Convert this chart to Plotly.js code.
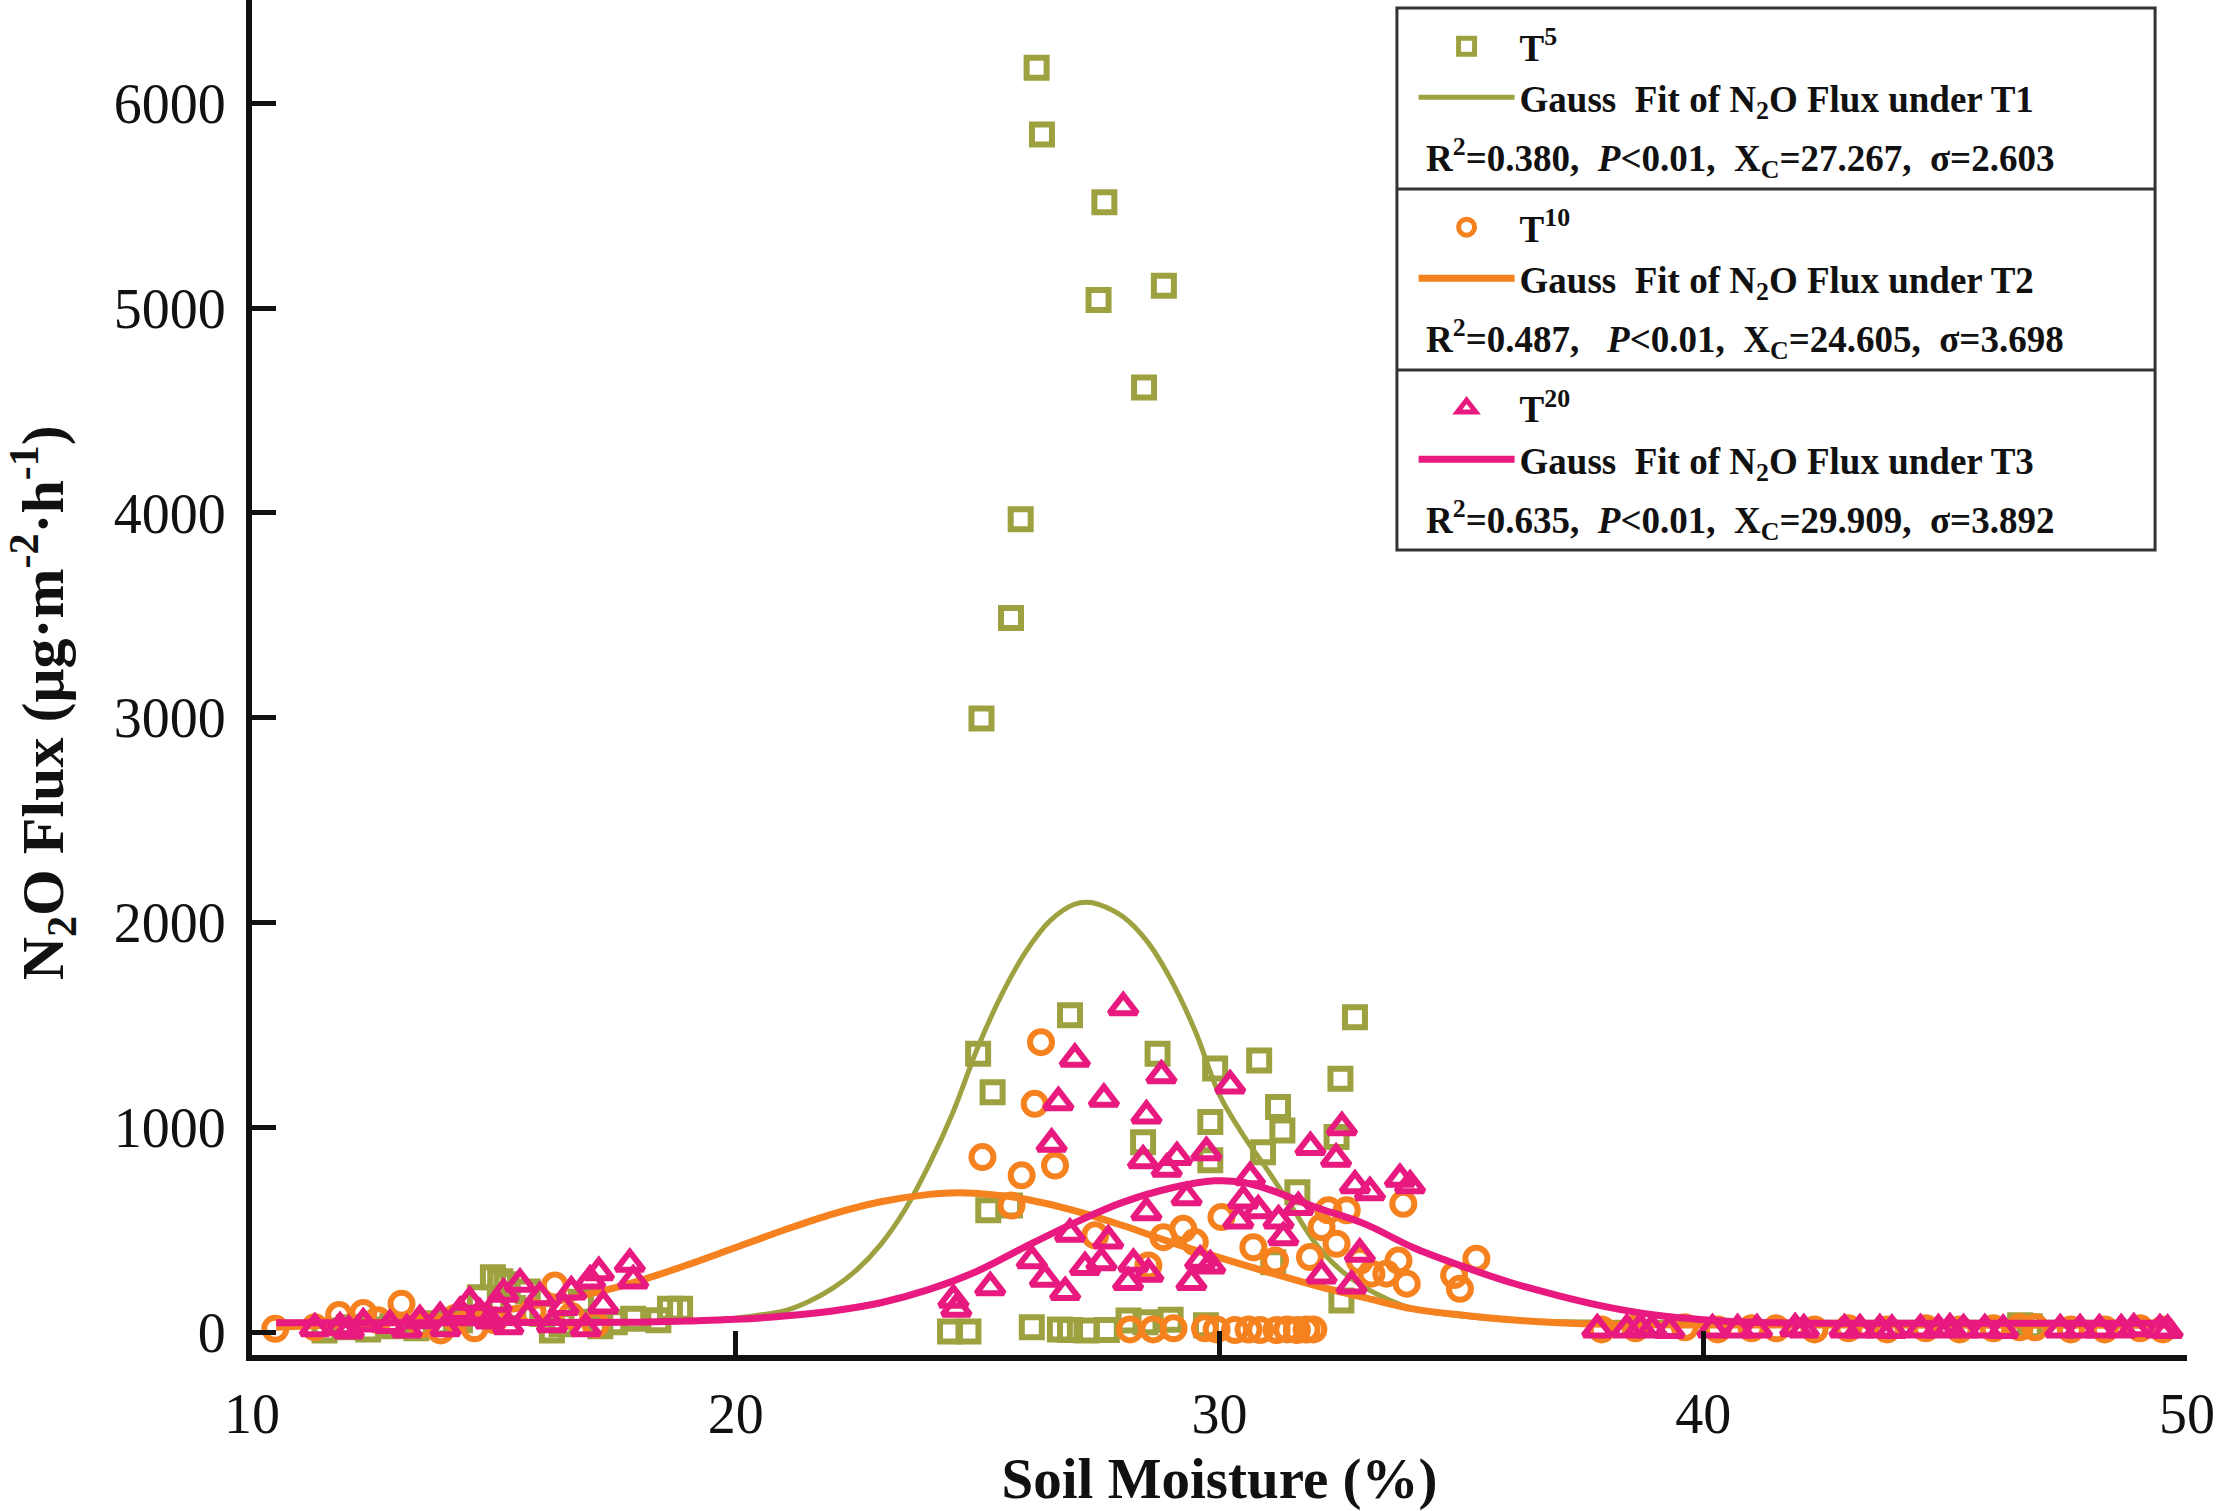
<!DOCTYPE html>
<html>
<head>
<meta charset="utf-8">
<script src="https://cdn.plot.ly/plotly-3.0.1.min.js"></script>
<style>
  html, body { margin: 0; padding: 0; background: #fff; }
  #chart { width: 2217px; height: 1511px; }
</style>
</head>
<body>
<div id="chart"></div>
<script>
// T5 soil moisture (%) and N2O flux
const t5X = [26.22, 26.33, 27.62, 27.50, 28.85, 28.44, 25.89, 25.69, 25.08,
  26.91, 25.01, 25.31, 28.72, 29.91, 30.82, 32.80, 32.50, 29.81, 31.21, 31.30, 28.42,
  30.90, 29.81, 32.42, 31.61, 25.22, 25.67, 31.11, 32.52,
  24.43, 24.81, 26.12, 26.70, 26.91, 27.25, 27.67, 28.12, 28.47, 28.99, 29.72,
  11.5, 12.0, 12.4, 12.9, 13.4, 13.8, 14.3, 14.71, 14.98, 15.13, 15.26, 15.4, 15.7, 16.0,
  16.2, 16.4, 16.8, 17.2, 17.5, 17.88, 18.4, 18.64, 18.85, 46.55, 46.75];
const t5Y = [6173, 5848, 5517, 5040, 5109, 4612, 3970, 3487, 2997,
  1548, 1361, 1173, 1361, 1289, 1328, 1539, 1239, 1027, 1100, 986, 929,
  880, 840, 954, 685, 596, 620, 343, 156,
  5, 5, 26, 15, 12, 10, 12, 58, 50, 62, 35,
  10, 25, 15, 30, 20, 45, 60, 172, 270, 250, 235, 120, 200, 90,
  10, 40, 150, 30, 50, 67, 60, 116, 116, 35, 30];

// T10
const t10X = [10.48, 11.3, 11.8, 12.3, 12.6, 13.09, 13.5, 13.9, 14.2, 14.6, 15.0, 15.8,
  16.26, 16.6, 17.1,
  26.31, 26.18, 25.10, 25.91, 26.60, 25.70, 27.43, 28.84, 29.25, 29.49, 28.53, 30.04,
  30.70, 31.15, 31.87, 32.11, 32.25, 32.63, 32.42, 32.90, 33.14, 33.45, 33.70, 33.87,
  33.80, 34.85, 34.97, 35.31,
  28.15, 28.63, 29.05, 29.70, 29.94, 30.32, 30.6, 30.84, 31.18, 31.4, 31.60, 31.8, 31.94,
  37.9, 38.6, 39.62, 40.3, 41.0, 41.51, 42.3, 43.0, 43.8, 44.6, 45.3, 46.0, 46.54, 46.86,
  47.6, 48.3, 49.03, 49.5];
const t10Y = [18, 25, 85, 95, 60, 140, 40, 10, 70, 20, 60, 100,
  229, 80, 40,
  1417, 1116, 856, 767, 815, 620, 474, 465, 506, 441, 327, 563,
  416, 351, 368, 514, 596, 596, 433, 350, 287, 287, 351, 238,
  628, 280, 213, 360,
  15, 15, 20, 20, 15, 12, 14, 12, 12, 15, 12, 14, 15,
  15, 20, 25, 15, 20, 20, 15, 20, 15, 20, 15, 20, 25, 25,
  15, 15, 20, 15];

// T20
const t20X = [28.01, 27.01, 26.67, 27.61, 28.80, 30.22, 28.49, 26.53, 28.42, 28.91, 29.12,
  29.73, 29.32, 28.49, 26.91, 27.70, 26.12, 25.26, 24.56, 24.50, 26.39, 26.81, 27.22,
  27.56, 28.11, 28.22, 28.53, 29.42, 29.81, 29.60,
  32.53, 31.88, 32.41, 32.80, 33.11, 33.73, 33.94, 30.63, 30.49, 30.80, 30.39, 31.22,
  31.32, 31.63, 32.90, 32.11, 32.73,
  11.30, 11.82, 12.0, 12.30, 12.85, 13.2, 13.47, 13.89, 14.0, 14.30, 14.5, 14.71, 14.92,
  15.06, 15.20, 15.3, 15.54, 15.7, 15.95, 16.2, 16.44, 16.6, 16.9, 16.99, 17.17, 17.26,
  17.81, 17.88,
  37.81, 38.42, 38.7, 38.94, 39.3, 40.19, 40.71, 41.11, 41.9, 42.08, 42.92, 43.24, 43.65,
  43.9, 44.49, 44.86, 45.1, 45.38, 45.82, 46.2, 47.38, 47.79, 48.19, 48.64, 48.9, 49.44, 49.6];
const t20Y = [1588, 1336, 1124, 1141, 1255, 1206, 1059, 921, 840, 799, 856,
  880, 660, 587, 482, 449, 352, 221, 116, 160, 262, 197, 319,
  343, 246, 335, 287, 246, 327, 350,
  1002, 905, 848, 718, 685, 750, 718, 758, 644, 596, 547, 547,
  465, 612, 384, 278, 229,
  20, 25, 10, 44, 36, 15, 60, 75, 20, 100, 150, 93, 59,
  140, 189, 30, 238, 80, 172, 40, 124, 200, 20, 254, 294, 132,
  335, 254,
  15, 15, 20, 15, 12, 15, 15, 15, 20, 15, 15, 15, 15,
  12, 15, 15, 20, 15, 15, 12, 15, 15, 15, 15, 20, 15, 12];

// fitted Gauss curves
const fit1X = [10.5, 15, 18, 19, 20, 20.5, 21, 21.5, 22, 22.5, 23, 23.5, 24, 24.5, 25, 25.5,
  26, 26.5, 27, 27.27, 27.5, 28, 28.5, 29, 29.5, 30, 30.5, 31, 31.5, 32, 32.5, 33, 33.5,
  34, 35, 36, 38, 49.6];
const fit1Y = [50, 50, 52, 58, 70, 85, 105, 150, 215, 305, 430, 600, 820, 1080, 1390, 1650,
  1860, 2010, 2090, 2100, 2090, 2030, 1910, 1720, 1470, 1160, 960, 790, 610, 430, 305, 220, 160,
  115, 80, 60, 50, 50];

const fit2X = [10.5, 11, 12, 13, 14, 15, 16, 17, 18, 19, 20, 21, 22, 23, 24, 24.6, 25.5, 26,
  27, 28, 29, 30, 31, 32, 33, 34, 35, 36, 37, 38, 40, 49.6];
const fit2Y = [26, 30, 40, 55, 75, 102, 138, 188, 252, 330, 415, 500, 578, 638, 674, 682, 668,
  650, 595, 522, 440, 365, 295, 228, 170, 115, 85, 62, 48, 40, 36, 35];

const fit3X = [10.5, 15, 18, 19, 20, 21, 22, 23, 24, 25, 26, 27, 28, 29, 29.9, 30.5, 31, 31.5,
  32, 33, 34, 35, 36, 37, 38, 39, 40, 41, 43, 49.6];
const fit3Y = [48, 48, 50, 56, 64, 80, 105, 145, 210, 300, 420, 535, 635, 705, 740, 732, 700, 655,
  610, 530, 415, 325, 245, 180, 125, 85, 62, 50, 45, 45];

const xTicks = [10, 20, 30, 40, 50];
const yTicks = [0, 1000, 2000, 3000, 4000, 5000, 6000];

const stats = [
  'R<sup>2</sup>=0.380,\u00a0 <i>P</i>&lt;0.01,\u00a0 X<sub>C</sub>=27.267,\u00a0 σ=2.603',
  'R<sup>2</sup>=0.487,\u00a0\u00a0 <i>P</i>&lt;0.01,\u00a0 X<sub>C</sub>=24.605,\u00a0 σ=3.698',
  'R<sup>2</sup>=0.635,\u00a0 <i>P</i>&lt;0.01,\u00a0 X<sub>C</sub>=29.909,\u00a0 σ=3.892',
];

const OLIVE = '#9da13f';
const ORANGE = '#f5821f';
const PINK = '#e8197f';
const FONT = 'Liberation Serif, Times New Roman, serif';

const traces = [
  { x: t5X, y: t5Y, type: 'scatter', mode: 'markers', name: 'T<sup>5</sup>', legend: 'legend',
    marker: { symbol: 'square-open', size: 20, color: OLIVE, line: { width: 6 } } },
  { x: fit1X, y: fit1Y, type: 'scatter', mode: 'lines', legend: 'legend',
    name: 'Gauss\u00a0 Fit of N<sub>2</sub>O Flux under T1',
    line: { color: OLIVE, width: 5, shape: 'spline' } },
  { x: t10X, y: t10Y, type: 'scatter', mode: 'markers', name: 'T<sup>10</sup>', legend: 'legend2',
    marker: { symbol: 'circle-open', size: 22, color: ORANGE, line: { width: 6 } } },
  { x: fit2X, y: fit2Y, type: 'scatter', mode: 'lines', legend: 'legend2',
    name: 'Gauss\u00a0 Fit of N<sub>2</sub>O Flux under T2',
    line: { color: ORANGE, width: 7, shape: 'spline' } },
  { x: t20X, y: t20Y, type: 'scatter', mode: 'markers', name: 'T<sup>20</sup>', legend: 'legend3',
    marker: { symbol: 'triangle-up-open', size: 24, color: PINK, line: { width: 6 } } },
  { x: fit3X, y: fit3Y, type: 'scatter', mode: 'lines', legend: 'legend3',
    name: 'Gauss\u00a0 Fit of N<sub>2</sub>O Flux under T3',
    line: { color: PINK, width: 7, shape: 'spline' } },
];

const legendBase = {
  x: 0.6003, xanchor: 'left', yanchor: 'top',
  bgcolor: 'rgba(0,0,0,0)', borderwidth: 0,
  itemwidth: 96, tracegroupgap: 0,
  font: { family: FONT, size: 37, color: '#111', weight: 'bold' },
};

// legend box in paper units
const boxX0 = 0.5917, boxX1 = 0.9835;
const boxTop = 0.9941, boxBottom = 0.5941;
const seps = [0.8605, 0.7269];
const statY = [0.8834, 0.7498, 0.6162];

const shapes = [
  { type: 'rect', xref: 'paper', yref: 'paper', x0: boxX0, x1: boxX1, y0: boxBottom, y1: boxTop,
    line: { color: '#333', width: 3 } },
  ...seps.map(y => ({ type: 'line', xref: 'paper', yref: 'paper', x0: boxX0, x1: boxX1, y0: y, y1: y,
    line: { color: '#333', width: 3 } })),
];

const annotations = stats.map((t, i) => ({
  xref: 'paper', yref: 'paper', x: 0.6057, y: statY[i], xanchor: 'left', yanchor: 'middle',
  text: t, showarrow: false,
  font: { family: FONT, size: 37, color: '#111', weight: 'bold' },
}));

// y-axis title, placed as in the figure (a little below the plot's middle)
annotations.push({
  xref: 'paper', yref: 'paper', x: -0.108, y: 0.481, xanchor: 'center', yanchor: 'middle',
  textangle: -90, showarrow: false,
  text: 'N<sub>2</sub>O Flux (μg·m<sup>-2</sup>·h<sup>-1</sup>)',
  font: { family: FONT, size: 60, color: '#111', weight: 'bold' },
});

const layout = {
  width: 2217, height: 1511,
  margin: { l: 252, r: 30, t: 0, b: 156 },
  paper_bgcolor: '#fff', plot_bgcolor: '#fff',
  showlegend: true,
  font: { family: FONT, color: '#111' },
  xaxis: {
    range: [10, 50], tickvals: xTicks, ticktext: xTicks.map(String),
    ticks: 'inside', ticklen: 24, tickwidth: 5, tickcolor: '#111',
    showline: true, linewidth: 6, linecolor: '#111',
    showgrid: false, zeroline: false, ticklabelstandoff: 5,
    tickfont: { family: FONT, size: 56, color: '#111' },
    title: { text: 'Soil Moisture (%)', standoff: 46,
      font: { family: FONT, size: 57, color: '#111', weight: 'bold' } },
  },
  yaxis: {
    range: [-110, 6504], tickvals: yTicks, ticktext: yTicks.map(String),
    ticks: 'inside', ticklen: 24, tickwidth: 5, tickcolor: '#111',
    showline: true, linewidth: 6, linecolor: '#111',
    showgrid: false, zeroline: false, ticklabelstandoff: 9,
    tickfont: { family: FONT, size: 56, color: '#111' },
  },
  legend: { ...legendBase, y: 0.9885 },
  legend2: { ...legendBase, y: 0.8549 },
  legend3: { ...legendBase, y: 0.7214 },
  shapes: shapes,
  annotations: annotations,
};

Plotly.newPlot('chart', traces, layout, { displayModeBar: false, staticPlot: true });
</script>
</body>
</html>
